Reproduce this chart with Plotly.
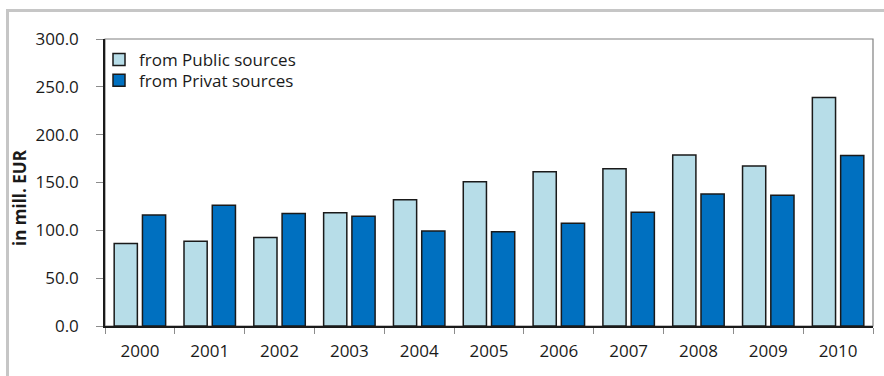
import plotly.graph_objects as go

# Funding volume per year, in million EUR
years = ["2000", "2001", "2002", "2003", "2004", "2005",
         "2006", "2007", "2008", "2009", "2010"]
public_sources = [86.3, 88.7, 92.6, 118.4, 132.0, 150.8,
                  161.3, 164.5, 178.8, 167.3, 238.8]
private_sources = [116.0, 126.1, 117.7, 114.6, 99.2, 98.5,
                   107.3, 118.8, 137.9, 136.6, 178.1]
y_ticks = [0, 50, 100, 150, 200, 250, 300]

W, H = 884, 376
ML, MR, MT, MB = 105, 11, 39, 50
PW, PH = W - ML - MR, H - MT - MB


def px_x(p):
    return (p - ML) / PW


def px_y(p):
    return (H - MB - p) / PH


FONT = "Open Sans"
TEXT = "#1a1a1a"

fig = go.Figure()
fig.add_trace(go.Bar(
    x=years, y=public_sources, name="from Public sources", legend="legend",
    marker=dict(color="#b7dde8", line=dict(color=TEXT, width=1.5)),
))
fig.add_trace(go.Bar(
    x=years, y=private_sources, name="from Privat sources", legend="legend2",
    marker=dict(color="#0070c0", line=dict(color=TEXT, width=1.5)),
))

legend_style = dict(xanchor="left", yanchor="top", bgcolor="rgba(0,0,0,0)",
                    font=dict(family=FONT, size=17, color=TEXT))

fig.update_layout(
    width=W, height=H,
    margin=dict(l=ML, r=MR, t=MT, b=MB, pad=0),
    paper_bgcolor="white", plot_bgcolor="white",
    barmode="group", bargap=0.19, bargroupgap=0.18,
    font=dict(family=FONT, size=17, color=TEXT),
    showlegend=True,
    legend=dict(x=px_x(99), y=px_y(42), **legend_style),
    legend2=dict(x=px_x(99), y=px_y(62.7), **legend_style),
    xaxis=dict(
        type="category", showgrid=False, showline=True, linecolor=TEXT,
        linewidth=1.5, ticks="outside", tickson="boundaries", ticklen=6,
        tickcolor="#8c8c8c", tickwidth=1, ticklabelstandoff=9,
        tickfont=dict(family=FONT, size=17, color=TEXT),
    ),
    yaxis=dict(
        range=[0, 300], tickvals=y_ticks, tickformat=".1f",
        showgrid=False, zeroline=False, showline=True, linecolor=TEXT,
        linewidth=1.5, ticks="outside", ticklen=7, tickcolor="#8c8c8c",
        tickwidth=1, ticklabelstandoff=14,
        tickfont=dict(family=FONT, size=17, color=TEXT),
    ),
    shapes=[
        # grey plot-area frame (top and right edges)
        dict(type="rect", xref="paper", yref="paper", x0=0, x1=1, y0=0, y1=1,
             line=dict(color="#808080", width=1.2), layer="below"),
        # light outer frame of the chart
        dict(type="rect", xref="paper", yref="paper",
             x0=px_x(7.5), x1=px_x(900), y0=px_y(400), y1=px_y(10.5),
             line=dict(color="#c6c6c6", width=3), layer="below"),
    ],
    annotations=[
        dict(text="<b>in mill. EUR</b>", textangle=-90, showarrow=False,
             xref="paper", yref="paper", x=px_x(19), y=px_y(198),
             xanchor="center", yanchor="middle",
             font=dict(family=FONT, size=17, color=TEXT)),
    ],
)

fig.write_html("out.html")
